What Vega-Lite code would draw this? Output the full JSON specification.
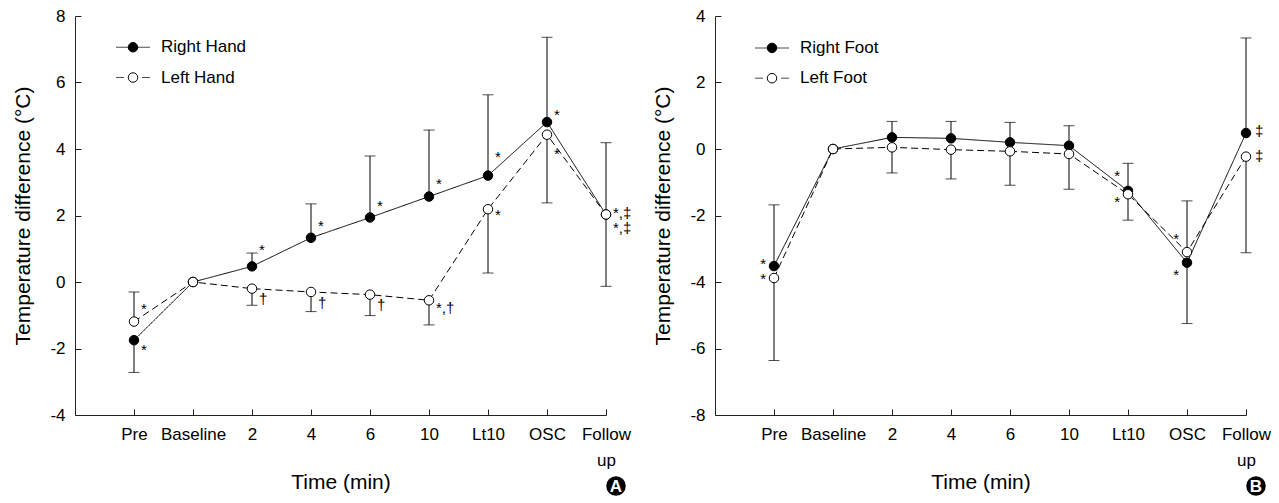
{
  "$schema": "https://vega.github.io/schema/vega-lite/v6.json",
  "background": "white",
  "padding": {"left": 12, "top": 7, "right": 0, "bottom": 0},
  "spacing": 20,
  "config": {
    "view": {"stroke": null},
    "font": "Liberation Sans",
    "axis": {
      "grid": false,
      "domainColor": "#222",
      "tickColor": "#222",
      "domainWidth": 1,
      "tickWidth": 1,
      "tickSize": -6,
      "labelColor": "black",
      "titleColor": "black",
      "labelFont": "Liberation Sans",
      "titleFont": "Liberation Sans",
      "labelFontSize": 17,
      "titleFontSize": 21,
      "titleFontWeight": "normal",
      "labelOverlap": false
    },
    "axisX": {"labelPadding": 17.7, "labelLineHeight": 26, "titlePadding": 3, "labelAngle": 0, "labelFlush": false},
    "axisY": {"labelPadding": 16, "titlePadding": 16}
  },
  "datasets": {
    "hand": [
      {"time": "Pre", "series": "Right Hand", "value": -1.75, "bar_end": -2.72},
      {"time": "Baseline", "series": "Right Hand", "value": 0, "bar_end": null},
      {"time": "2", "series": "Right Hand", "value": 0.47, "bar_end": 0.87},
      {"time": "4", "series": "Right Hand", "value": 1.33, "bar_end": 2.35},
      {"time": "6", "series": "Right Hand", "value": 1.94, "bar_end": 3.79},
      {"time": "10", "series": "Right Hand", "value": 2.57, "bar_end": 4.57},
      {"time": "Lt10", "series": "Right Hand", "value": 3.2, "bar_end": 5.63},
      {"time": "OSC", "series": "Right Hand", "value": 4.81, "bar_end": 7.36},
      {"time": "Follow up", "series": "Right Hand", "value": 2.03, "bar_end": 4.19},
      {"time": "Pre", "series": "Left Hand", "value": -1.19, "bar_end": -0.3},
      {"time": "Baseline", "series": "Left Hand", "value": 0, "bar_end": null},
      {"time": "2", "series": "Left Hand", "value": -0.2, "bar_end": -0.7},
      {"time": "4", "series": "Left Hand", "value": -0.3, "bar_end": -0.89},
      {"time": "6", "series": "Left Hand", "value": -0.38, "bar_end": -1.01},
      {"time": "10", "series": "Left Hand", "value": -0.55, "bar_end": -1.29},
      {"time": "Lt10", "series": "Left Hand", "value": 2.19, "bar_end": 0.27},
      {"time": "OSC", "series": "Left Hand", "value": 4.43, "bar_end": 2.38},
      {"time": "Follow up", "series": "Left Hand", "value": 2.03, "bar_end": -0.13}
    ],
    "foot": [
      {"time": "Pre", "series": "Right Foot", "value": -3.52, "bar_end": -1.68},
      {"time": "Baseline", "series": "Right Foot", "value": 0, "bar_end": null},
      {"time": "2", "series": "Right Foot", "value": 0.35, "bar_end": 0.83},
      {"time": "4", "series": "Right Foot", "value": 0.32, "bar_end": 0.83},
      {"time": "6", "series": "Right Foot", "value": 0.2, "bar_end": 0.8},
      {"time": "10", "series": "Right Foot", "value": 0.1, "bar_end": 0.7},
      {"time": "Lt10", "series": "Right Foot", "value": -1.26, "bar_end": -0.43},
      {"time": "OSC", "series": "Right Foot", "value": -3.42, "bar_end": -5.25},
      {"time": "Follow up", "series": "Right Foot", "value": 0.48, "bar_end": 3.34},
      {"time": "Pre", "series": "Left Foot", "value": -3.88, "bar_end": -6.36},
      {"time": "Baseline", "series": "Left Foot", "value": 0, "bar_end": null},
      {"time": "2", "series": "Left Foot", "value": 0.05, "bar_end": -0.72},
      {"time": "4", "series": "Left Foot", "value": -0.02, "bar_end": -0.9},
      {"time": "6", "series": "Left Foot", "value": -0.07, "bar_end": -1.09},
      {"time": "10", "series": "Left Foot", "value": -0.15, "bar_end": -1.21},
      {"time": "Lt10", "series": "Left Foot", "value": -1.36, "bar_end": -2.14},
      {"time": "OSC", "series": "Left Foot", "value": -3.1, "bar_end": -1.56},
      {"time": "Follow up", "series": "Left Foot", "value": -0.23, "bar_end": -3.12}
    ],
    "hand_notes": [
      {"time": "Pre", "value": -0.68, "text": "*"},
      {"time": "Pre", "value": -1.91, "text": "*"},
      {"time": "2", "value": 1.09, "text": "*"},
      {"time": "2", "value": -0.38, "text": "†"},
      {"time": "4", "value": 1.79, "text": "*"},
      {"time": "4", "value": -0.5, "text": "†"},
      {"time": "6", "value": 2.41, "text": "*"},
      {"time": "6", "value": -0.56, "text": "†"},
      {"time": "10", "value": 3.07, "text": "*"},
      {"time": "10", "value": -0.65, "text": "*,†"},
      {"time": "Lt10", "value": 3.87, "text": "*"},
      {"time": "Lt10", "value": 2.13, "text": "*"},
      {"time": "OSC", "value": 5.13, "text": "*"},
      {"time": "OSC", "value": 3.96, "text": "*"},
      {"time": "Follow up", "value": 2.2, "text": "*,‡"},
      {"time": "Follow up", "value": 1.74, "text": "*,‡"}
    ],
    "foot_notes_left": [
      {"time": "Pre", "value": -3.33, "text": "*"},
      {"time": "Pre", "value": -3.79, "text": "*"},
      {"time": "Lt10", "value": -0.69, "text": "*"},
      {"time": "Lt10", "value": -1.47, "text": "*"},
      {"time": "OSC", "value": -2.58, "text": "*"},
      {"time": "OSC", "value": -3.67, "text": "*"}
    ],
    "foot_notes_right": [
      {"time": "Follow up", "value": 0.67, "text": "‡"},
      {"time": "Follow up", "value": -0.08, "text": "‡"}
    ],
    "hand_legend": [
      {"time": "Pre", "value": 7.06, "series": "Right Hand"},
      {"time": "Pre", "value": 6.15, "series": "Left Hand"}
    ],
    "foot_legend": [
      {"time": "Pre", "value": 3.04, "series": "Right Foot"},
      {"time": "Pre", "value": 2.13, "series": "Left Foot"}
    ],
    "badge_a": [{"time": "Follow up", "value": -4, "panel": "A"}],
    "badge_b": [{"time": "Follow up", "value": -8, "panel": "B"}]
  },
  "hconcat": [
    {
      "width": 531,
      "height": 399,
      "data": {"name": "hand"},
      "encoding": {
        "x": {
          "field": "time",
          "type": "ordinal",
          "sort": ["Pre", "Baseline", "2", "4", "6", "10", "Lt10", "OSC", "Follow up"],
          "scale": {"type": "point", "padding": 0, "domain": ["", "Pre", "Baseline", "2", "4", "6", "10", "Lt10", "OSC", "Follow up"]},
          "axis": {
            "title": "Time (min)",
            "values": ["Pre", "Baseline", "2", "4", "6", "10", "Lt10", "OSC", "Follow up"],
            "labelExpr": "datum.value == 'Follow up' ? ['Follow', 'up'] : datum.label"
          }
        },
        "y": {
          "field": "value",
          "type": "quantitative",
          "scale": {"domain": [-4, 8], "nice": false, "zero": false},
          "axis": {"title": "Temperature difference (°C)", "values": [-4, -2, 0, 2, 4, 6, 8], "labelExpr": "'' + datum.value"}
        }
      },
      "layer": [
        {
          "transform": [{"filter": {"field": "bar_end", "valid": true}}],
          "mark": {"type": "rule", "color": "black", "strokeWidth": 1},
          "encoding": {"y2": {"field": "bar_end"}}
        },
        {
          "transform": [{"filter": {"field": "bar_end", "valid": true}}],
          "mark": {"type": "tick", "color": "black", "size": 11, "thickness": 1},
          "encoding": {"y": {"field": "bar_end", "type": "quantitative", "title": "Temperature difference (°C)"}}
        },
        {
          "mark": {"type": "line", "color": "black", "strokeWidth": 1},
          "encoding": {
            "strokeDash": {"field": "series", "type": "nominal", "scale": {"domain": ["Right Hand", "Left Hand"], "range": [[1, 0], [7, 4]]}, "legend": null}
          }
        },
        {
          "mark": {"type": "point", "shape": "circle", "filled": true, "size": 90, "stroke": "black", "strokeWidth": 1, "opacity": 1},
          "encoding": {
            "fill": {"field": "series", "type": "nominal", "scale": {"domain": ["Right Hand", "Left Hand"], "range": ["black", "white"]}, "legend": null}
          }
        },
        {
          "data": {"name": "hand_notes"},
          "mark": {"type": "text", "align": "left", "baseline": "middle", "dx": 7, "dy": 4, "fontSize": 15, "color": "black"},
          "encoding": {"text": {"field": "text"}}
        },
        {
          "data": {"name": "hand_legend"},
          "transform": [{"filter": "datum.series == 'Right Hand'"}],
          "mark": {"type": "tick", "color": "black", "size": 34, "thickness": 1, "xOffset": -1},
          "encoding": {}
        },
        {
          "data": {"name": "hand_legend"},
          "transform": [{"filter": "datum.series == 'Left Hand'"}],
          "mark": {"type": "tick", "color": "black", "size": 8, "thickness": 1, "xOffset": -14},
          "encoding": {}
        },
        {
          "data": {"name": "hand_legend"},
          "transform": [{"filter": "datum.series == 'Left Hand'"}],
          "mark": {"type": "tick", "color": "black", "size": 8, "thickness": 1, "xOffset": 12},
          "encoding": {}
        },
        {
          "data": {"name": "hand_legend"},
          "mark": {"type": "point", "shape": "circle", "filled": true, "size": 90, "stroke": "black", "strokeWidth": 1, "opacity": 1, "xOffset": -1},
          "encoding": {"fill": {"field": "series", "type": "nominal", "legend": null}}
        },
        {
          "data": {"name": "hand_legend"},
          "mark": {"type": "text", "align": "left", "baseline": "middle", "dx": 27, "fontSize": 17, "color": "black"},
          "encoding": {"text": {"field": "series"}}
        },
        {
          "data": {"name": "badge_a"},
          "mark": {"type": "point", "shape": "circle", "filled": true, "color": "black", "opacity": 1, "size": 380, "xOffset": 10, "yOffset": 71},
          "encoding": {}
        },
        {
          "data": {"name": "badge_a"},
          "mark": {"type": "text", "color": "white", "fontWeight": "bold", "fontSize": 17, "align": "center", "baseline": "middle", "dx": 10, "dy": 72},
          "encoding": {"text": {"field": "panel"}}
        }
      ]
    },
    {
      "width": 531,
      "height": 399,
      "data": {"name": "foot"},
      "encoding": {
        "x": {
          "field": "time",
          "type": "ordinal",
          "sort": ["Pre", "Baseline", "2", "4", "6", "10", "Lt10", "OSC", "Follow up"],
          "scale": {"type": "point", "padding": 0, "domain": ["", "Pre", "Baseline", "2", "4", "6", "10", "Lt10", "OSC", "Follow up"]},
          "axis": {
            "title": "Time (min)",
            "values": ["Pre", "Baseline", "2", "4", "6", "10", "Lt10", "OSC", "Follow up"],
            "labelExpr": "datum.value == 'Follow up' ? ['Follow', 'up'] : datum.label"
          }
        },
        "y": {
          "field": "value",
          "type": "quantitative",
          "scale": {"domain": [-8, 4], "nice": false, "zero": false},
          "axis": {"title": "Temperature difference (°C)", "values": [-8, -6, -4, -2, 0, 2, 4], "labelExpr": "'' + datum.value"}
        }
      },
      "layer": [
        {
          "transform": [{"filter": {"field": "bar_end", "valid": true}}],
          "mark": {"type": "rule", "color": "black", "strokeWidth": 1},
          "encoding": {"y2": {"field": "bar_end"}}
        },
        {
          "transform": [{"filter": {"field": "bar_end", "valid": true}}],
          "mark": {"type": "tick", "color": "black", "size": 11, "thickness": 1},
          "encoding": {"y": {"field": "bar_end", "type": "quantitative", "title": "Temperature difference (°C)"}}
        },
        {
          "mark": {"type": "line", "color": "black", "strokeWidth": 1},
          "encoding": {
            "strokeDash": {"field": "series", "type": "nominal", "scale": {"domain": ["Right Foot", "Left Foot"], "range": [[1, 0], [7, 4]]}, "legend": null}
          }
        },
        {
          "mark": {"type": "point", "shape": "circle", "filled": true, "size": 90, "stroke": "black", "strokeWidth": 1, "opacity": 1},
          "encoding": {
            "fill": {"field": "series", "type": "nominal", "scale": {"domain": ["Right Foot", "Left Foot"], "range": ["black", "white"]}, "legend": null}
          }
        },
        {
          "data": {"name": "foot_notes_left"},
          "mark": {"type": "text", "align": "right", "baseline": "middle", "dx": -8, "dy": 4, "fontSize": 15, "color": "black"},
          "encoding": {"text": {"field": "text"}}
        },
        {
          "data": {"name": "foot_notes_right"},
          "mark": {"type": "text", "align": "left", "baseline": "middle", "dx": 9, "dy": 4, "fontSize": 15, "color": "black"},
          "encoding": {"text": {"field": "text"}}
        },
        {
          "data": {"name": "foot_legend"},
          "transform": [{"filter": "datum.series == 'Right Foot'"}],
          "mark": {"type": "tick", "color": "black", "size": 34, "thickness": 1, "xOffset": -2},
          "encoding": {}
        },
        {
          "data": {"name": "foot_legend"},
          "transform": [{"filter": "datum.series == 'Left Foot'"}],
          "mark": {"type": "tick", "color": "black", "size": 8, "thickness": 1, "xOffset": -15},
          "encoding": {}
        },
        {
          "data": {"name": "foot_legend"},
          "transform": [{"filter": "datum.series == 'Left Foot'"}],
          "mark": {"type": "tick", "color": "black", "size": 8, "thickness": 1, "xOffset": 11},
          "encoding": {}
        },
        {
          "data": {"name": "foot_legend"},
          "mark": {"type": "point", "shape": "circle", "filled": true, "size": 90, "stroke": "black", "strokeWidth": 1, "opacity": 1, "xOffset": -2},
          "encoding": {"fill": {"field": "series", "type": "nominal", "legend": null}}
        },
        {
          "data": {"name": "foot_legend"},
          "mark": {"type": "text", "align": "left", "baseline": "middle", "dx": 26, "fontSize": 17, "color": "black"},
          "encoding": {"text": {"field": "series"}}
        },
        {
          "data": {"name": "badge_b"},
          "mark": {"type": "point", "shape": "circle", "filled": true, "color": "black", "opacity": 1, "size": 380, "xOffset": 10, "yOffset": 71},
          "encoding": {}
        },
        {
          "data": {"name": "badge_b"},
          "mark": {"type": "text", "color": "white", "fontWeight": "bold", "fontSize": 17, "align": "center", "baseline": "middle", "dx": 10, "dy": 72},
          "encoding": {"text": {"field": "panel"}}
        }
      ]
    }
  ]
}
